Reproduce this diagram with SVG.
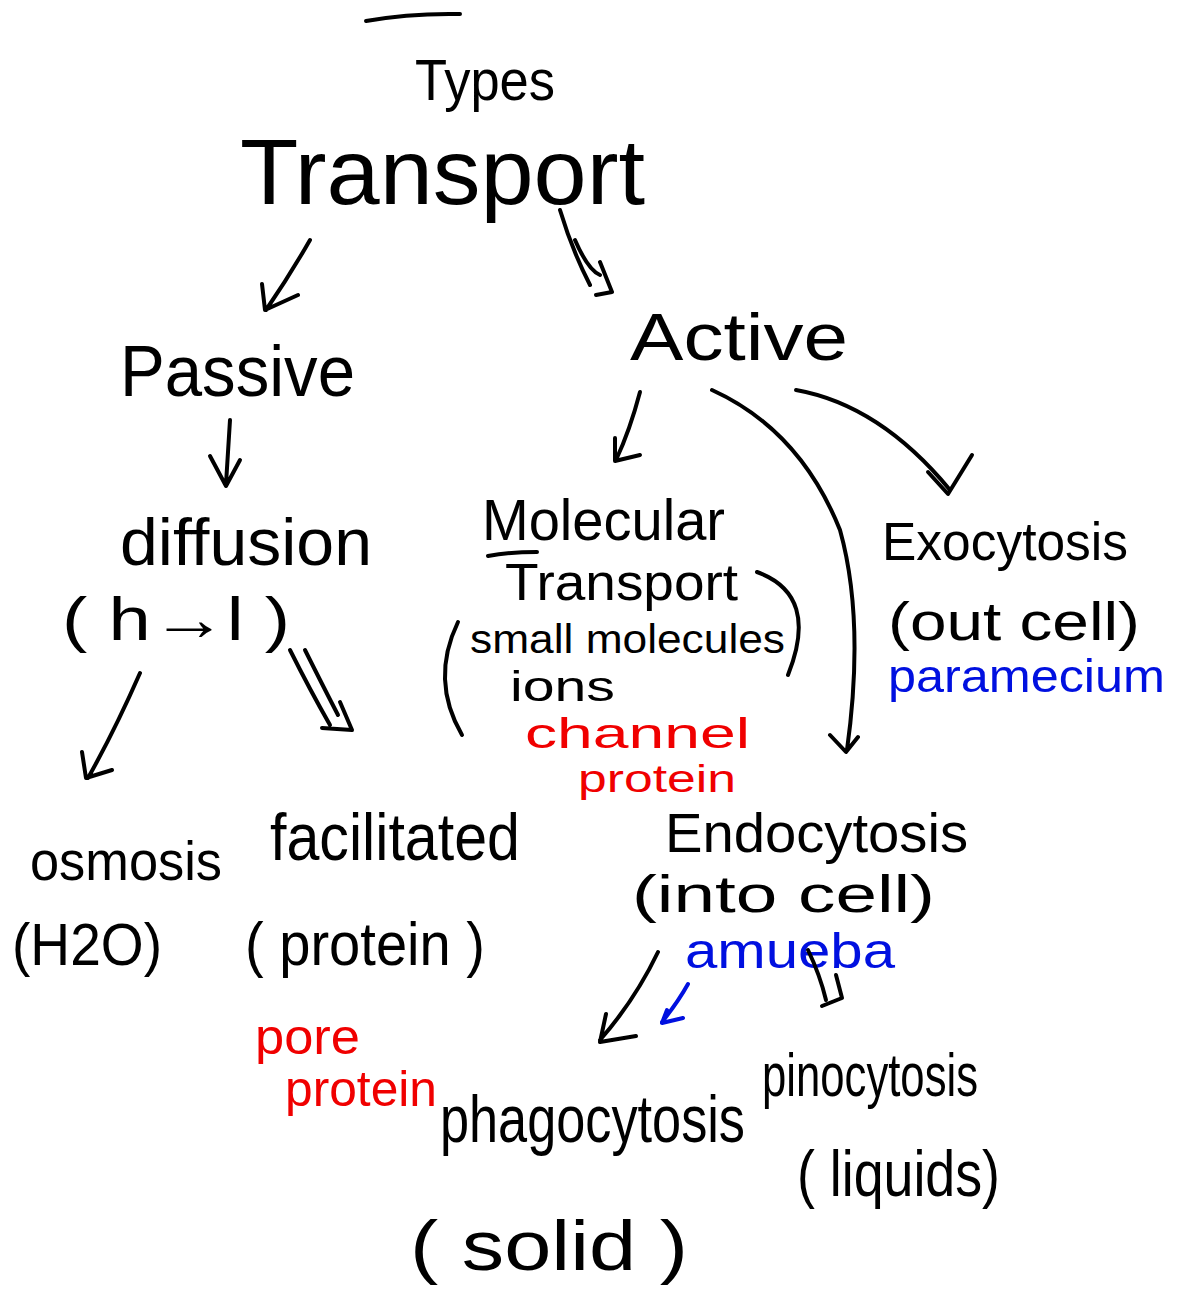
<svg xmlns="http://www.w3.org/2000/svg" width="1180" height="1308" viewBox="0 0 1180 1308">
<style>
text{font-family:"Liberation Sans","DejaVu Sans",sans-serif;fill:#000}
.r{fill:#f00000}
.b{fill:#0010e0}
.s{fill:none;stroke:#000;stroke-width:4;stroke-linecap:round;stroke-linejoin:round}
.sb{fill:none;stroke:#0010e0;stroke-width:4;stroke-linecap:round;stroke-linejoin:round}
</style>
<rect width="1180" height="1308" fill="#fff"/>
<g id="title">
<path class="s" d="M366 21 Q410 13 460 14"/>
<text x="415" y="100" font-size="58" textLength="140" lengthAdjust="spacingAndGlyphs">Types</text>
<text x="240" y="204" font-size="92" textLength="405" lengthAdjust="spacingAndGlyphs">Transport</text>
</g>
<g id="passive"><text x="120" y="396" font-size="72" textLength="235" lengthAdjust="spacingAndGlyphs">Passive</text></g>
<g id="active"><text x="630" y="360" font-size="66" textLength="218" lengthAdjust="spacingAndGlyphs">Active</text></g>
<g id="diffusion">
<text x="120" y="565" font-size="66" textLength="252" lengthAdjust="spacingAndGlyphs">diffusion</text>
<text x="62" y="640" font-size="62" textLength="228" lengthAdjust="spacingAndGlyphs">( h→l )</text>
</g>
<g id="molecular">
<text x="482" y="540" font-size="58" textLength="243" lengthAdjust="spacingAndGlyphs">Molecular</text>
<path class="s" d="M488 556 Q510 552 537 552"/>
<text x="505" y="600" font-size="52" textLength="233" lengthAdjust="spacingAndGlyphs">Transport</text>
<path class="s" d="M458 622 Q430 680 462 735"/>
<text x="470" y="653" font-size="40" textLength="315" lengthAdjust="spacingAndGlyphs">small molecules</text>
<path class="s" d="M757 572 Q820 595 788 675"/>
<text x="510" y="701" font-size="42" textLength="105" lengthAdjust="spacingAndGlyphs">ions</text>
<text class="r" x="525" y="748" font-size="42" textLength="225" lengthAdjust="spacingAndGlyphs">channel</text>
<text class="r" x="578" y="792" font-size="38" textLength="158" lengthAdjust="spacingAndGlyphs">protein</text>
</g>
<g id="exocytosis">
<text x="882" y="560" font-size="54" textLength="246" lengthAdjust="spacingAndGlyphs">Exocytosis</text>
<text x="888" y="640" font-size="54" textLength="252" lengthAdjust="spacingAndGlyphs">(out cell)</text>
<text class="b" x="888" y="692" font-size="46" textLength="277" lengthAdjust="spacingAndGlyphs">paramecium</text>
</g>
<g id="endocytosis">
<text x="665" y="852" font-size="56" textLength="303" lengthAdjust="spacingAndGlyphs">Endocytosis</text>
<text x="632" y="912" font-size="52" textLength="303" lengthAdjust="spacingAndGlyphs">(into cell)</text>
<text class="b" x="685" y="968" font-size="50" textLength="210" lengthAdjust="spacingAndGlyphs">amueba</text>
</g>
<g id="osmosis">
<text x="30" y="880" font-size="56" textLength="192" lengthAdjust="spacingAndGlyphs">osmosis</text>
<text x="12" y="965" font-size="60" textLength="150" lengthAdjust="spacingAndGlyphs">(H2O)</text>
</g>
<g id="facilitated">
<text x="270" y="860" font-size="66" textLength="250" lengthAdjust="spacingAndGlyphs">facilitated</text>
<text x="245" y="965" font-size="62" textLength="240" lengthAdjust="spacingAndGlyphs">( protein )</text>
<text class="r" x="255" y="1054" font-size="50" textLength="105" lengthAdjust="spacingAndGlyphs">pore</text>
<text class="r" x="285" y="1106" font-size="50" textLength="152" lengthAdjust="spacingAndGlyphs">protein</text>
</g>
<g id="phagocytosis">
<text x="440" y="1142" font-size="66" textLength="305" lengthAdjust="spacingAndGlyphs">phagocytosis</text>
<text x="410" y="1270" font-size="70" textLength="278" lengthAdjust="spacingAndGlyphs">( solid )</text>
</g>
<g id="pinocytosis">
<text x="762" y="1096" font-size="62" textLength="216" lengthAdjust="spacingAndGlyphs">pinocytosis</text>
<text x="797" y="1196" font-size="64" textLength="203" lengthAdjust="spacingAndGlyphs">( liquids)</text>
</g>
<g id="connectors">
<path class="s" d="M310 240 Q290 275 266 310 M262 284 L265 310 L298 295"/>
<path class="s" d="M560 210 Q572 250 590 285 M575 240 Q588 270 600 275 M600 262 L612 292 L596 295"/>
<path class="s" d="M230 420 L226 484 M210 456 L226 486 L240 460"/>
<path class="s" d="M640 392 Q630 430 616 460 M615 438 L615 461 L640 455"/>
<path class="s" d="M712 390 Q800 430 840 530 Q865 620 847 750 M830 735 L846 752 L858 737"/>
<path class="s" d="M796 390 Q880 405 950 490 M928 472 L948 494 L972 455"/>
<path class="s" d="M140 673 Q115 730 88 778 M82 752 L86 778 L112 770"/>
<path class="s" d="M290 650 Q310 690 330 725 M305 650 Q325 690 338 715 M322 728 L352 730 L340 702"/>
<path class="s" d="M658 952 Q635 1000 600 1040 M606 1014 L600 1042 L636 1036"/>
<path class="sb" d="M688 984 Q678 1002 662 1022 M667 1010 L662 1023 L683 1018"/>
<path class="s" d="M808 950 Q820 975 826 1000 M836 975 L842 998 L822 1006"/>
</g>
</svg>
